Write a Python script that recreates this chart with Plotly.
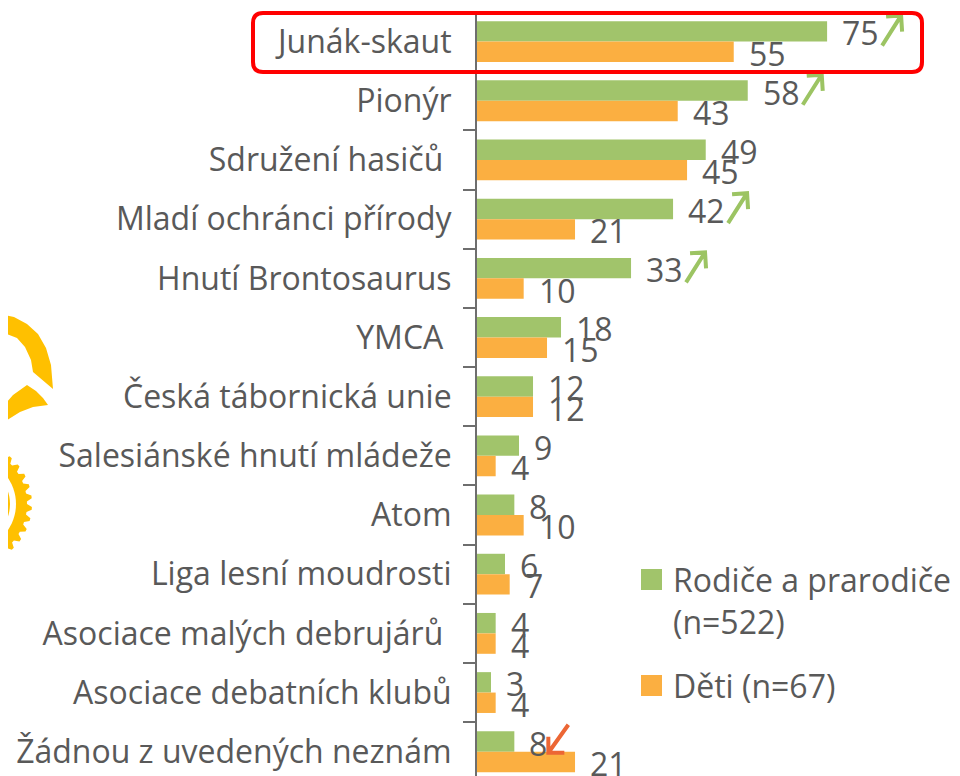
import math
import plotly.graph_objects as go

# ---------------- data ----------------
categories = [
    "Junák-skaut",
    "Pionýr",
    "Sdružení hasičů\u00a0",
    "Mladí ochránci přírody",
    "Hnutí Brontosaurus",
    "YMCA\u00a0",
    "Česká tábornická unie",
    "Salesiánské hnutí mládeže",
    "Atom",
    "Liga lesní moudrosti",
    "Asociace malých debrujárů\u00a0",
    "Asociace debatních klubů",
    "Žádnou z uvedených neznám",
]
parents = [75, 58, 49, 42, 33, 18, 12, 9, 8, 6, 4, 3, 8]
children = [55, 43, 45, 21, 10, 15, 12, 4, 10, 7, 4, 4, 21]
series_names = ["Rodiče a prarodiče (n=522)", "Děti (n=67)"]
legend_lines = [["Rodiče a prarodiče", "(n=522)"], ["Děti (n=67)"]]
up_arrow_rows = ["Junák-skaut", "Pionýr", "Mladí ochránci přírody", "Hnutí Brontosaurus"]
down_arrow_rows = ["Žádnou z uvedených neznám"]

# ---------------- style ----------------
OFF = 8                      # page body margin of the html page
W, H = 960 - OFF, 776 - OFF  # figure size so that it ends at the window edge
L_ABS, T_ABS = 477, 12       # plot-area top-left in window pixels
L, T = L_ABS - OFF, T_ABS - OFF
PW, PH = 960 - L_ABS, 776 - T_ABS
PX_PER_UNIT = 4.668
GREEN = "#A1C46B"
ORANGE = "#FBAF41"
ARROW_GREEN = "#9CC463"
ARROW_RED = "#EC6634"
TEXT = "#595959"
AXIS = "#6E6E6E"
GOLD = "#FFC000"
FONT = "Open Sans"

fig = go.Figure()
fig.add_trace(go.Bar(y=categories, x=parents, orientation="h", name=series_names[0],
                     marker=dict(color=GREEN, line=dict(width=0)), showlegend=False,
                     hoverinfo="x+y"))
fig.add_trace(go.Bar(y=categories, x=children, orientation="h", name=series_names[1],
                     marker=dict(color=ORANGE, line=dict(width=0)), showlegend=False,
                     hoverinfo="x+y"))

pitch = PH / 12.91
half_bar = pitch * 0.69 / 4

annotations = []
for cat, p, c in zip(categories, parents, children):
    annotations.append(dict(x=p, y=cat, xref="x", yref="y", text=str(p), showarrow=False,
                            xanchor="left", yanchor="middle", xshift=13, yshift=half_bar - 1.5,
                            font=dict(family=FONT, size=32, color=TEXT)))
    annotations.append(dict(x=c, y=cat, xref="x", yref="y", text=str(c), showarrow=False,
                            xanchor="left", yanchor="middle", xshift=13, yshift=-half_bar - 1.5,
                            font=dict(family=FONT, size=32, color=TEXT)))

shapes = []


def rel(px, py):
    """absolute window pixel -> pixel offset from plot top-left (y up)."""
    return f"{px - L_ABS:.1f},{T_ABS - py:.1f}"


def pixel_shape(path, **kw):
    d = dict(type="path", xref="paper", yref="paper", xsizemode="pixel", ysizemode="pixel",
             xanchor=0, yanchor=1, path=path)
    d.update(kw)
    return d


def poly(points):
    return "M" + " L".join(rel(x, y) for x, y in points) + " Z"


# arrows next to value labels
for cat in up_arrow_rows:
    v = parents[categories.index(cat)]
    hx, hy = 74, 26
    path = f"M55,-4 L{hx},{hy} M{hx - 15},{hy - 1} L{hx},{hy} L{hx + 1},{hy - 16}"
    shapes.append(dict(type="path", xref="x", yref="y", xsizemode="pixel", ysizemode="pixel",
                       xanchor=v, yanchor=cat, path=path,
                       line=dict(color=ARROW_GREEN, width=4)))
for cat in down_arrow_rows:
    v = parents[categories.index(cat)]
    path = "M54,27 L34,-1 M34,15 L34,-1 L50,-1"
    shapes.append(dict(type="path", xref="x", yref="y", xsizemode="pixel", ysizemode="pixel",
                       xanchor=v, yanchor=cat, path=path,
                       line=dict(color=ARROW_RED, width=4)))

# rounded highlight rectangle
x0, x1, y0, y1, r = 253, 922, 13, 72, 10
rr = (f"M{rel(x0 + r, y0)} L{rel(x1 - r, y0)} Q{rel(x1, y0)} {rel(x1, y0 + r)} "
      f"L{rel(x1, y1 - r)} Q{rel(x1, y1)} {rel(x1 - r, y1)} L{rel(x0 + r, y1)} "
      f"Q{rel(x0, y1)} {rel(x0, y1 - r)} L{rel(x0, y0 + r)} Q{rel(x0, y0)} {rel(x0 + r, y0)} Z")
shapes.append(pixel_shape(rr, line=dict(color="#FF0000", width=4), fillcolor="rgba(0,0,0,0)"))

# decorative partial logo on the left edge
arc1 = [(0, 314), (14, 317), (27, 324), (38, 334), (46, 348), (51, 365), (53, 389),
        (33, 372), (31, 360), (25, 347), (17, 338), (7, 334), (0, 333), (-5, 333), (-5, 314)]
arc2 = [(-5, 414), (0, 410), (13, 395), (27, 385), (36, 391), (43, 398), (48, 405),
        (33, 407), (20, 412), (7, 420), (0, 426), (-5, 429)]
shapes.append(pixel_shape(poly(arc1), fillcolor=GOLD, line=dict(width=0)))
shapes.append(pixel_shape(poly(arc2), fillcolor=GOLD, line=dict(width=0)))
gcx, gcy = -30, 504
gear = []
n_teeth = 34
for k in range(n_teeth * 4):
    a = 2 * math.pi * k / (n_teeth * 4)
    rad = 62 if (k % 4) in (1, 2) else 57
    gear.append((gcx + rad * math.cos(a), gcy + rad * math.sin(a)))
shapes.append(pixel_shape(poly(gear), fillcolor=GOLD, line=dict(width=0)))


def circle(cx, cy, rad, n=72):
    return [(cx + rad * math.cos(2 * math.pi * k / n), cy + rad * math.sin(2 * math.pi * k / n))
            for k in range(n)]


shapes.append(pixel_shape(poly(circle(gcx, gcy, 46)), fillcolor="white", line=dict(width=0)))
shapes.append(pixel_shape(poly(circle(gcx, gcy, 40)), fillcolor=GOLD, line=dict(width=0)))

# legend (squares + text)
legend_colors = [GREEN, ORANGE]
legend_square_tops = [569, 675]
for col, top, lines in zip(legend_colors, legend_square_tops, legend_lines):
    shapes.append(pixel_shape(poly([(641, top), (662, top), (662, top + 21), (641, top + 21)]),
                              fillcolor=col, line=dict(width=0)))
    for i, line in enumerate(lines):
        cy = top + 10.5 + i * 42
        annotations.append(dict(x=(673 - L_ABS) / PW, y=1 - (cy - T_ABS) / PH,
                                xref="paper", yref="paper",
                                text=line, showarrow=False, xanchor="left", yanchor="middle",
                                xshift=-2, font=dict(family=FONT, size=32, color=TEXT)))

fig.update_layout(
    width=W, height=H,
    margin=dict(l=L, r=0, t=T, b=0, pad=0, autoexpand=False),
    paper_bgcolor="white", plot_bgcolor="white",
    barmode="group", bargap=0.31, bargroupgap=0,
    showlegend=False,
    font=dict(family=FONT, color=TEXT),
    xaxis=dict(range=[0, PW / PX_PER_UNIT], visible=False, fixedrange=True),
    yaxis=dict(type="category", categoryorder="array", categoryarray=categories,
               range=[12.41, -0.5], showline=True, linecolor=AXIS, linewidth=2,
               ticks="outside", tickson="boundaries", ticklen=12, tickwidth=2, tickcolor=AXIS,
               ticklabelstandoff=17, showgrid=False, zeroline=False, automargin=False,
               tickfont=dict(family=FONT, size=32, color=TEXT)),
    annotations=annotations,
    shapes=shapes,
)

fig.write_html("out.html")
